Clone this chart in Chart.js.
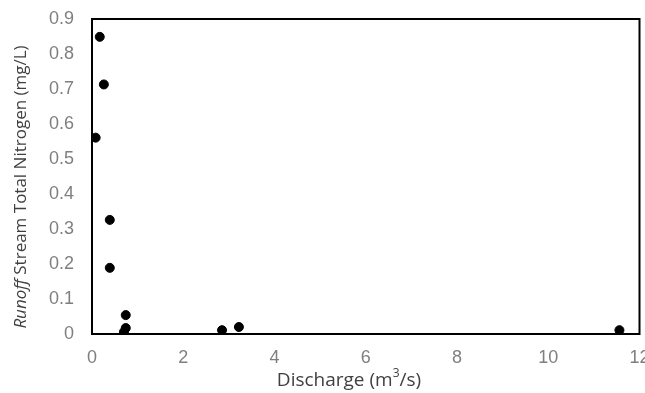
<!DOCTYPE html>
<html>
<head>
<meta charset="utf-8">
<script src="https://cdn.jsdelivr.net/npm/chart.js@4.4.1/dist/chart.umd.min.js"></script>
<style>
  html, body { margin: 0; padding: 0; background: #fff; }
  #wrap { width: 645px; height: 393px; }
</style>
</head>
<body>
<div id="wrap"><canvas id="chart"></canvas></div>
<script>
// discharge (m3/s) vs runoff stream total nitrogen (mg/L)
const discharge = [0.17, 0.26, 0.08, 0.39, 0.39, 0.74, 0.74, 0.70, 2.85, 3.22, 11.56];
const nitrogen  = [0.849, 0.713, 0.561, 0.326, 0.189, 0.054, 0.017, 0.006, 0.011, 0.020, 0.011];
const xTicks = [0, 2, 4, 6, 8, 10, 12];
const yTicks = [0, 0.1, 0.2, 0.3, 0.4, 0.5, 0.6, 0.7, 0.8, 0.9];

const fontFamily = "'Open Sans', 'Liberation Sans', sans-serif";
const tickFamily = "'Liberation Sans', Arial, sans-serif";

// box around plot + custom axis titles (y title has italic "Runoff")
const frameAndTitles = {
    id: 'frameAndTitles',
    afterDraw(chart) {
        const ctx = chart.ctx;
        const a = chart.chartArea;
        ctx.save();
        ctx.strokeStyle = '#000';
        ctx.lineWidth = 2;
        ctx.strokeRect(a.left, a.top, a.right - a.left, a.bottom - a.top);

        ctx.fillStyle = '#404040';
        ctx.textBaseline = 'middle';

        // x title
        const pre = 'Discharge (m';
        const post = '/s)';
        ctx.font = '19px ' + fontFamily;
        const w1 = ctx.measureText(pre).width;
        ctx.font = '12px ' + fontFamily;
        const w2 = ctx.measureText('3').width;
        ctx.font = '19px ' + fontFamily;
        const w3 = ctx.measureText(post).width;
        let x = 349 - (w1 + w2 + w3) / 2;
        const y = 381;
        ctx.textAlign = 'left';
        ctx.fillText(pre, x, y);
        ctx.font = '12px ' + fontFamily;
        ctx.fillText('3', x + w1, y - 7);
        ctx.font = '19px ' + fontFamily;
        ctx.fillText(post, x + w1 + w2, y);

        // y title, rotated
        ctx.translate(21, 187);
        ctx.rotate(-Math.PI / 2);
        ctx.font = 'italic 17px ' + fontFamily;
        const it = 'Runoff';
        const wi = ctx.measureText(it).width;
        ctx.font = '17px ' + fontFamily;
        const rest = ' Stream Total Nitrogen (mg/L)';
        const wr = ctx.measureText(rest).width;
        let sx = -(wi + wr) / 2;
        ctx.font = 'italic 17px ' + fontFamily;
        ctx.fillText(it, sx, 0);
        ctx.font = '17px ' + fontFamily;
        ctx.fillText(rest, sx + wi, 0);
        ctx.restore();
    }
};

const ctx = document.getElementById('chart').getContext('2d');
new Chart(ctx, {
    type: 'scatter',
    data: {
        datasets: [{
            label: 'Total Nitrogen',
            data: discharge.map((d, i) => ({ x: d, y: nitrogen[i] })),
            backgroundColor: '#000',
            borderColor: '#000',
            pointRadius: 4.5,
            pointHoverRadius: 4.5
        }]
    },
    options: {
        responsive: true,
        maintainAspectRatio: false,
        animation: false,
        layout: { padding: { left: 0, right: 5, top: 19, bottom: 0 } },
        plugins: {
            legend: { display: false },
            tooltip: { enabled: false }
        },
        scales: {
            x: {
                type: 'linear',
                min: 0,
                max: 12,
                afterBuildTicks: scale => { scale.ticks = xTicks.map(v => ({ value: v })); },
                afterFit: scale => { scale.height = 59; scale.paddingRight = 0; scale.paddingLeft = 0; },
                grid: { display: false, drawTicks: false },
                border: { display: false },
                ticks: {
                    color: '#7f7f7f',
                    padding: 13,
                    maxRotation: 0,
                    font: { family: tickFamily, size: 18 }
                }
            },
            y: {
                type: 'linear',
                min: 0,
                max: 0.9,
                afterBuildTicks: scale => { scale.ticks = yTicks.map(v => ({ value: v })); },
                afterFit: scale => { scale.width = 92; scale.paddingTop = 0; scale.paddingBottom = 0; },
                grid: { display: false, drawTicks: false },
                border: { display: false },
                ticks: {
                    color: '#7f7f7f',
                    padding: 18,
                    font: { family: tickFamily, size: 18 },
                    callback: v => String(Math.round(v * 10) / 10)
                }
            }
        }
    },
    plugins: [frameAndTitles]
});
</script>
</body>
</html>
